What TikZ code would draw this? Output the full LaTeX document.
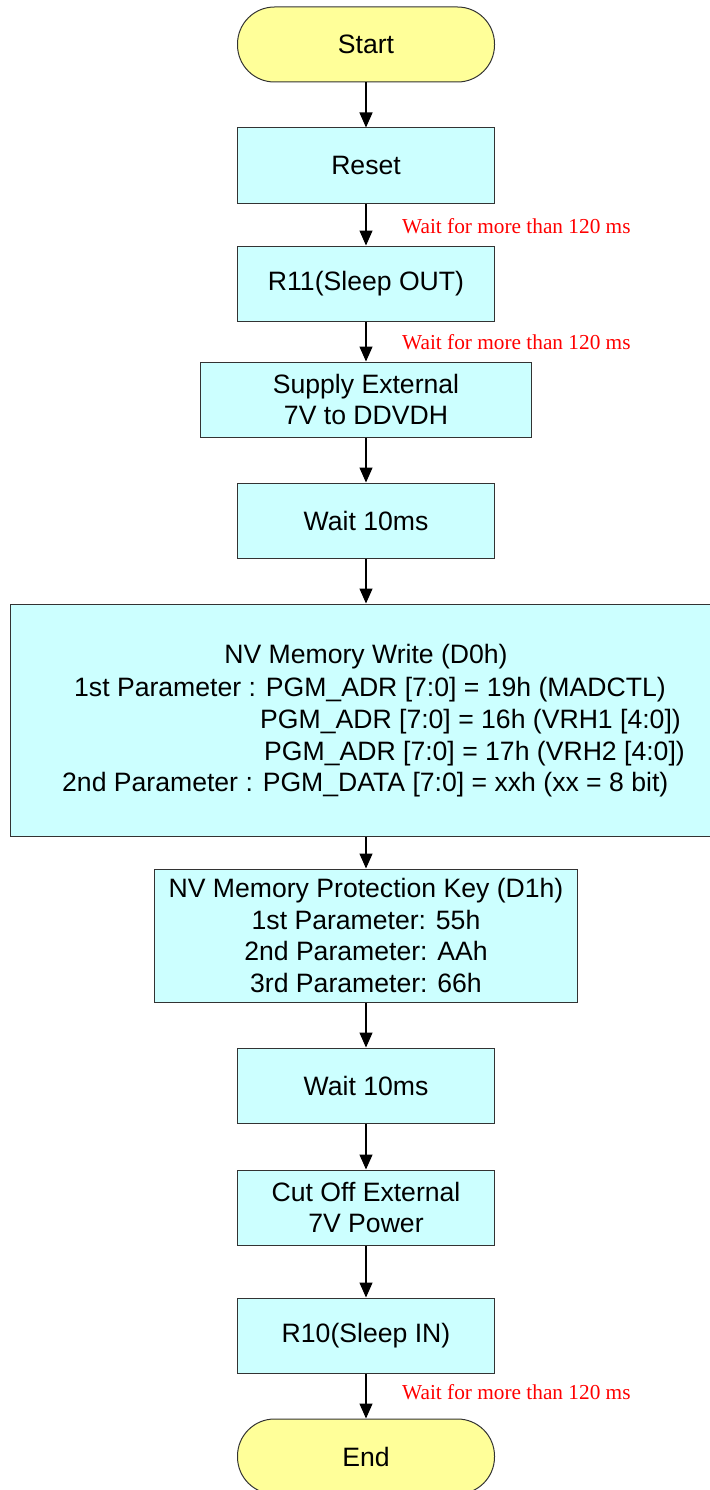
\documentclass[tikz,border=0pt]{standalone}
\usepackage{fontspec}
\setmainfont{Liberation Sans}
\newfontfamily\serifred{Liberation Serif}
\usetikzlibrary{arrows.meta}
\definecolor{boxfill}{HTML}{CCFFFF}
\definecolor{termfill}{HTML}{FFFF99}
\definecolor{edge}{HTML}{333333}
\definecolor{notered}{HTML}{FF0000}
\tikzset{
  base/.style={draw=edge, line width=1pt, inner sep=0pt, align=center,
    font=\fontsize{26.6}{31.5}\selectfont},
  terminal/.style={base, fill=termfill, rounded corners=37pt,
    minimum width=257pt, minimum height=75pt},
  stepbox/.style={base, fill=boxfill, minimum height=75pt},
  txt/.style={inner sep=0pt, font=\fontsize{26.6}{31.5}\selectfont},
  note/.style={inner sep=0pt, anchor=west, text=notered,
    font=\serifred\fontsize{21.3}{24}\selectfont},
  flow/.style={line width=1.3pt, -{Triangle[length=15pt,width=13pt]}}
}
\begin{document}
\begin{tikzpicture}[x=1pt,y=-1pt]
\useasboundingbox (0,0) rectangle (709,1490);
\node[terminal] (start) at (366,44.5) {Start};
\node[stepbox, minimum width=257pt] (reset) at (366,165.5) {Reset};
\node[stepbox, minimum width=257pt] (r11) at (366,283.5) {R11(Sleep OUT)};
\node[stepbox, minimum width=331pt] (supply) at (366,399.5) {Supply External\\7V to DDVDH};
\node[stepbox, minimum width=257pt] (wait1) at (366,520.5) {Wait 10ms};
\node[stepbox, minimum width=712pt, minimum height=232pt] (nvw) at (366,720) {};
\node[txt] (nvw1) at (366,657) {NV Memory Write (D0h)};
\node[txt, anchor=west] (nvw2) at (74,690) {1st Parameter : PGM\_ADR [7:0] = 19h (MADCTL)};
\node[txt, anchor=west] (nvw3) at (260,722) {PGM\_ADR [7:0] = 16h (VRH1 [4:0])};
\node[txt, anchor=west] (nvw4) at (264,754) {PGM\_ADR [7:0] = 17h (VRH2 [4:0])};
\node[txt, anchor=west] (nvw5) at (62,785) {2nd Parameter : PGM\_DATA [7:0] = xxh (xx = 8 bit)};
\node[stepbox, minimum width=423pt, minimum height=133pt] (prot) at (366,935.5)
  {NV Memory Protection Key (D1h)\\1st Parameter: 55h\\2nd Parameter: AAh\\3rd Parameter: 66h};
\node[stepbox, minimum width=257pt] (wait2) at (366,1085.5) {Wait 10ms};
\node[stepbox, minimum width=257pt] (cut) at (366,1207.5) {Cut Off External\\7V Power};
\node[stepbox, minimum width=257pt] (r10) at (366,1335.5) {R10(Sleep IN)};
\node[terminal] (end) at (366,1456.5) {End};
\draw[flow] (start) -- (reset);
\draw[flow] (reset) -- (r11);
\draw[flow] (r11) -- (supply);
\draw[flow] (supply) -- (wait1);
\draw[flow] (wait1) -- (nvw);
\draw[flow] (nvw) -- (prot);
\draw[flow] (prot) -- (wait2);
\draw[flow] (wait2) -- (cut);
\draw[flow] (cut) -- (r10);
\draw[flow] (r10) -- (end);
\node[note] (n1) at (402,226) {Wait for more than 120 ms};
\node[note] (n2) at (402,342) {Wait for more than 120 ms};
\node[note] (n3) at (402,1392) {Wait for more than 120 ms};
\end{tikzpicture}
\end{document}
